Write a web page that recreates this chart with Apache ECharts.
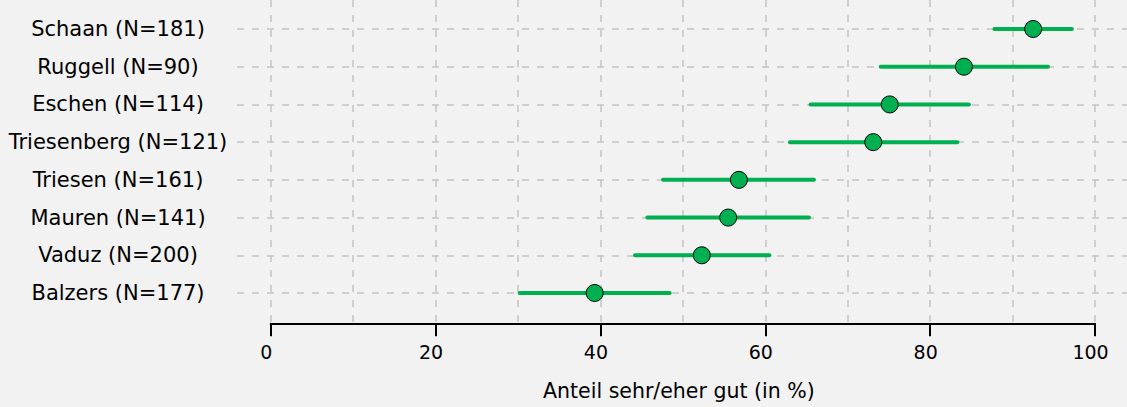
<!DOCTYPE html>
<html>
<head>
<meta charset="utf-8">
<script src="https://cdn.jsdelivr.net/npm/echarts@6/dist/echarts.min.js"></script>
<style>
    html, body { margin: 0; padding: 0; background: #f2f2f2; }
    #chartGemeinden { width: 1127px; height: 407px; }
</style>
</head>
<body>
<div id="chartGemeinden"></div>
<script>
    // Werte (Anteil sehr/eher gut, in %)
    var gemeinden = ['Schaan (N=181)', 'Ruggell (N=90)', 'Eschen (N=114)', 'Triesenberg (N=121)',
        'Triesen (N=161)', 'Mauren (N=141)', 'Vaduz (N=200)', 'Balzers (N=177)'];
    var anteil = [92.5, 84.1, 75.1, 73.1, 56.8, 55.5, 52.3, 39.3];
    var untereGrenze = [87.8, 74.0, 65.5, 63.0, 47.6, 45.7, 44.2, 30.2];
    var obereGrenze = [97.2, 94.3, 84.7, 83.3, 65.9, 65.3, 60.5, 48.4];
    var achsenTitel = 'Anteil sehr/eher gut (in %)';

    var schrift = "'DejaVu Sans', sans-serif";
    var gruen = '#00b050';
    var gitter = { type: [7, 8], color: '#c3c3c3', width: 1.5 };

    var option = {
        backgroundColor: '#f2f2f2',
        animation: false,
        grid: [
            // achse + senkrechte linien
            { left: 270.7, right: 32, top: 0, bottom: 83.7 },
            // waagrechte linien + beschriftung
            { left: 237, right: 0, top: 29, bottom: 114 },
            // daten
            { left: 270.7, right: 32, top: 29, bottom: 114 }
        ],
        xAxis: [
            {
                gridIndex: 0, type: 'value', min: 0, max: 100, interval: 10, position: 'top',
                axisLine: { show: false }, axisTick: { show: false }, axisLabel: { show: false },
                splitLine: { show: true, lineStyle: gitter }
            },
            {
                gridIndex: 0, type: 'value', min: 0, max: 100, interval: 20, position: 'bottom',
                axisLine: { show: true, lineStyle: { color: '#000', width: 2 } },
                axisTick: { show: true, length: 13, lineStyle: { color: '#000', width: 2 } },
                axisLabel: { margin: 19, fontSize: 19, color: '#000', fontFamily: schrift, padding: [0, 9, 0, 0] },
                splitLine: { show: false },
                name: achsenTitel,
                nameLocation: 'middle',
                nameGap: 57,
                nameTextStyle: { fontSize: 20.5, color: '#000', fontFamily: schrift, padding: [0, 8, 0, 0] }
            },
            { gridIndex: 1, type: 'value', show: false },
            { gridIndex: 2, type: 'value', min: 0, max: 100, show: false }
        ],
        yAxis: [
            { gridIndex: 0, type: 'value', show: false },
            {
                gridIndex: 1, type: 'category', data: gemeinden, inverse: true, boundaryGap: false,
                axisLine: { show: false }, axisTick: { show: false },
                axisLabel: { interval: 0, margin: 119, align: 'center', fontSize: 21, color: '#000', fontFamily: schrift },
                splitLine: { show: true, interval: 0, lineStyle: gitter }
            },
            { gridIndex: 2, type: 'category', data: gemeinden, inverse: true, boundaryGap: false, show: false }
        ],
        series: [
            {
                type: 'custom',
                xAxisIndex: 3,
                yAxisIndex: 2,
                data: gemeinden.map(function (g, i) { return [untereGrenze[i], obereGrenze[i], i]; }),
                encode: { x: [0, 1], y: 2 },
                renderItem: function (params, api) {
                    var von = api.coord([api.value(0), api.value(2)]);
                    var bis = api.coord([api.value(1), api.value(2)]);
                    return {
                        type: 'line',
                        shape: { x1: von[0], y1: von[1], x2: bis[0], y2: bis[1] },
                        style: { stroke: gruen, lineWidth: 4, lineCap: 'round' }
                    };
                },
                z: 2
            },
            {
                type: 'scatter',
                xAxisIndex: 3,
                yAxisIndex: 2,
                data: anteil.map(function (v, i) { return [v, gemeinden[i]]; }),
                symbol: 'circle',
                symbolSize: 17,
                itemStyle: { color: gruen, borderColor: '#000', borderWidth: 1, opacity: 1 },
                z: 3
            }
        ]
    };

    var myChart = echarts.init(document.getElementById('chartGemeinden'), null, { renderer: 'svg' });
    myChart.setOption(option);
</script>
</body>
</html>
